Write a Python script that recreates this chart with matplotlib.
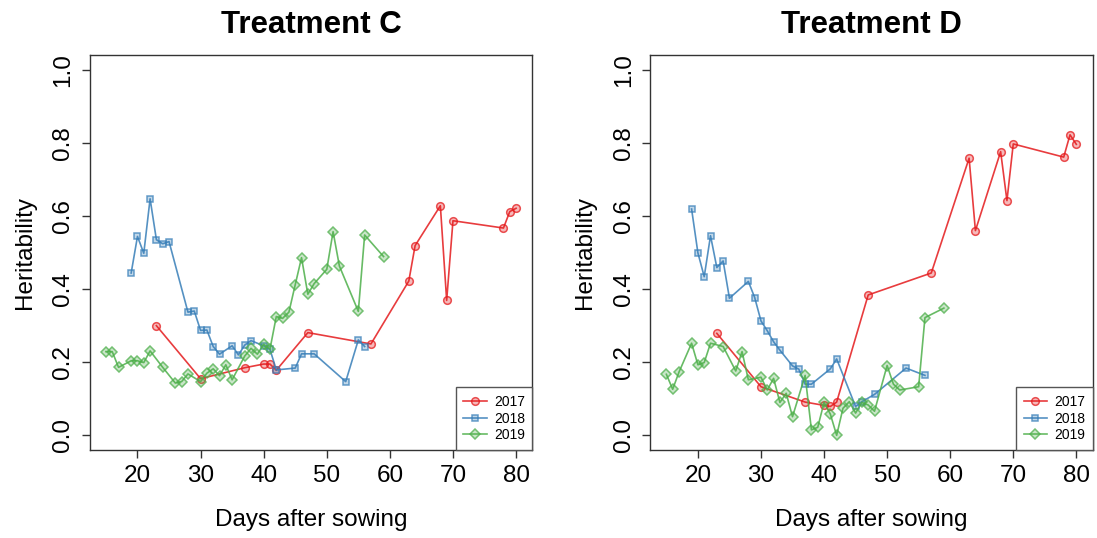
import matplotlib.pyplot as plt
from matplotlib.colors import to_rgba
from matplotlib.ticker import FormatStrFormatter

plt.rcParams['font.family'] = ['Liberation Sans', 'DejaVu Sans']

years = ['2017', '2018', '2019']
colors = ['#E41A1C', '#377EB8', '#4DAF4A']
markers = ['o', 's', 'D']
marker_sizes = [5.5, 5, 5]
titles = ['Treatment C', 'Treatment D']

# Treatment C
c_days_2017 = [23, 30, 37, 40, 41, 42, 47, 57, 63, 64, 68, 69, 70, 78, 79, 80]
c_h2_2017 = [0.300, 0.155, 0.185, 0.195, 0.195, 0.178, 0.281, 0.250, 0.422, 0.519,
             0.628, 0.369, 0.587, 0.567, 0.612, 0.621]
c_days_2018 = [19, 20, 21, 22, 23, 24, 25, 28, 29, 30, 31, 32, 33, 35, 36, 37, 38,
               40, 41, 42, 45, 46, 48, 53, 55, 56]
c_h2_2018 = [0.444, 0.544, 0.498, 0.647, 0.535, 0.524, 0.530, 0.337, 0.340, 0.287,
             0.288, 0.243, 0.222, 0.245, 0.220, 0.247, 0.259, 0.245, 0.235, 0.179,
             0.184, 0.223, 0.223, 0.147, 0.261, 0.243]
c_days_2019 = [15, 16, 17, 19, 20, 21, 22, 24, 26, 27, 28, 30, 31, 32, 33, 34, 35,
               37, 38, 39, 40, 41, 42, 43, 44, 45, 46, 47, 48, 50, 51, 52, 55, 56, 59]
c_h2_2019 = [0.229, 0.229, 0.186, 0.204, 0.204, 0.199, 0.231, 0.186, 0.143, 0.147,
             0.168, 0.147, 0.170, 0.182, 0.163, 0.193, 0.152, 0.217, 0.238, 0.222,
             0.249, 0.236, 0.325, 0.320, 0.337, 0.412, 0.486, 0.386, 0.415, 0.454,
             0.557, 0.463, 0.339, 0.548, 0.489]

# Treatment D
d_days_2017 = [23, 30, 37, 40, 41, 42, 47, 57, 63, 64, 68, 69, 70, 78, 79, 80]
d_h2_2017 = [0.279, 0.133, 0.091, 0.082, 0.079, 0.091, 0.384, 0.444, 0.758, 0.560,
             0.776, 0.642, 0.797, 0.761, 0.822, 0.796]
d_days_2018 = [19, 20, 21, 22, 23, 24, 25, 28, 29, 30, 31, 32, 33, 35, 36, 37, 38,
               41, 42, 45, 46, 48, 53, 56]
d_h2_2018 = [0.619, 0.499, 0.434, 0.546, 0.459, 0.477, 0.375, 0.421, 0.377, 0.313,
             0.286, 0.256, 0.233, 0.190, 0.181, 0.140, 0.140, 0.182, 0.209, 0.079,
             0.092, 0.112, 0.184, 0.164]
d_days_2019 = [15, 16, 17, 19, 20, 21, 22, 24, 26, 27, 28, 30, 31, 32, 33, 34, 35,
               37, 38, 39, 40, 41, 42, 43, 44, 45, 46, 47, 48, 50, 51, 52, 55, 56, 59]
d_h2_2019 = [0.167, 0.126, 0.173, 0.252, 0.193, 0.199, 0.252, 0.243, 0.176, 0.229,
             0.152, 0.159, 0.124, 0.156, 0.090, 0.115, 0.051, 0.164, 0.015, 0.022,
             0.090, 0.058, 0.000, 0.074, 0.092, 0.061, 0.090, 0.083, 0.066, 0.191,
             0.140, 0.124, 0.133, 0.322, 0.348]

panels = [
    [(c_days_2017, c_h2_2017), (c_days_2018, c_h2_2018), (c_days_2019, c_h2_2019)],
    [(d_days_2017, d_h2_2017), (d_days_2018, d_h2_2018), (d_days_2019, d_h2_2019)],
]

fig = plt.figure(figsize=(10.97, 5.38), dpi=100)
axes = [fig.add_axes([0.0816, 0.1636, 0.4038, 0.734]),
        fig.add_axes([0.5925, 0.1636, 0.4036, 0.734])]

for ax, series, title in zip(axes, panels, titles):
    for (days, h2), year, col, mk, ms in zip(series, years, colors, markers, marker_sizes):
        ax.plot(days, h2, color=to_rgba(col, 0.85), linewidth=1.2, label=year,
                marker=mk, markersize=ms, markerfacecolor=to_rgba(col, 0.3),
                markeredgecolor=to_rgba(col, 0.75), markeredgewidth=1.1)

    ax.set_xlim(12.4, 82.6)
    ax.set_ylim(-0.04, 1.04)
    ax.set_xticks(range(20, 81, 10))
    ax.set_yticks([0, 0.2, 0.4, 0.6, 0.8, 1.0])
    ax.yaxis.set_major_formatter(FormatStrFormatter('%.1f'))
    ax.tick_params(labelsize=17.5, length=6, width=1, color='#333333')
    ax.tick_params(axis='x', pad=5)
    ax.tick_params(axis='y', pad=5)
    for lbl in ax.get_yticklabels():
        lbl.set_rotation(90)
        lbl.set_va('center')
    for sp in ax.spines.values():
        sp.set_color('#333333')
        sp.set_linewidth(1)

    ax.set_title(title, fontsize=22.5, fontweight='bold', pad=16)
    ax.set_xlabel('Days after sowing', fontsize=17.5, labelpad=16)
    ax.set_ylabel('Heritability', fontsize=17.5, labelpad=12)

    leg = ax.legend(loc='lower right', bbox_to_anchor=(1, 0), borderaxespad=0,
                    fontsize=10, fancybox=False, framealpha=1, handlelength=1.7,
                    labelspacing=0.2, borderpad=0.55, handletextpad=0.5)
    leg.get_frame().set_edgecolor('#555555')
    leg.get_frame().set_linewidth(1)

fig.savefig('out.png', dpi=100)
